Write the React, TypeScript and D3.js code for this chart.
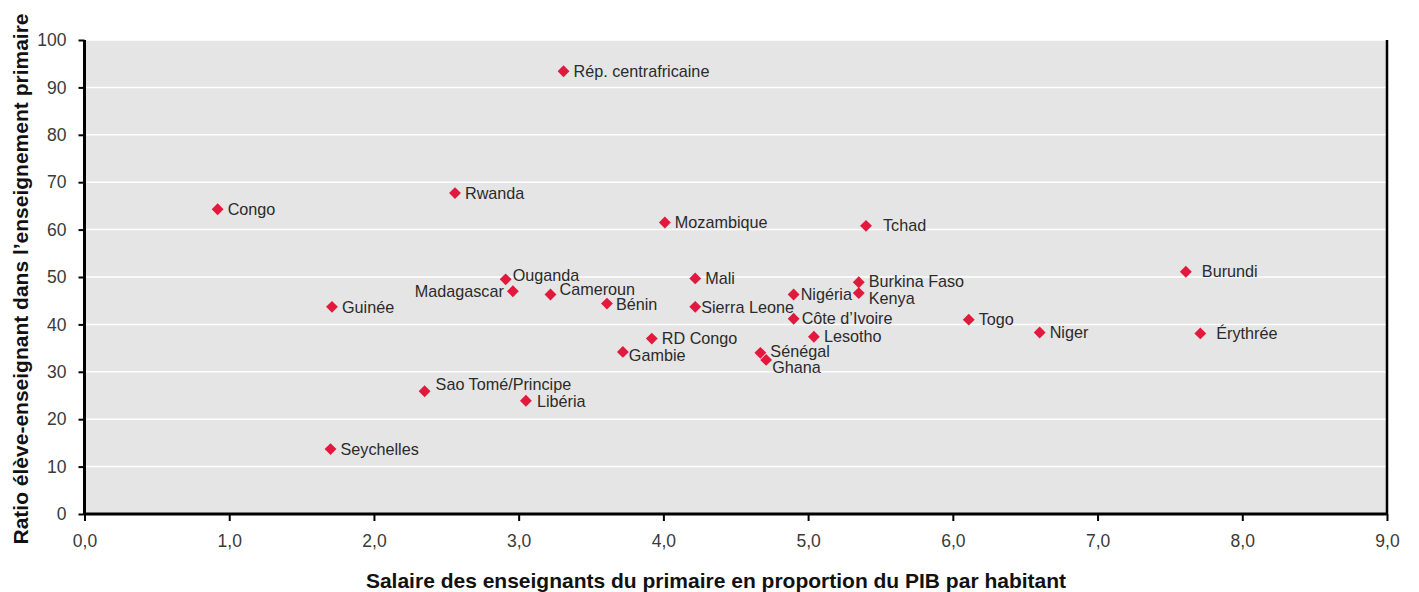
import React, { useEffect, useRef } from 'react';
import * as d3 from 'd3';

// Countries and their values (x: teacher salary / GDP per capita, y: pupil-teacher ratio)
const countries = [
    'Rép. centrafricaine', 'Congo', 'Rwanda', 'Mozambique', 'Tchad', 'Burundi', 'Érythrée',
    'Niger', 'Togo', 'Burkina Faso', 'Kenya', 'Nigéria', 'Côte d\u2019Ivoire', 'Lesotho',
    'Sénégal', 'Ghana', 'Mali', 'Sierra Leone', 'RD Congo', 'Gambie', 'Bénin', 'Cameroun',
    'Ouganda', 'Madagascar', 'Guinée', 'Sao Tomé/Principe', 'Libéria', 'Seychelles',
];
const salaryRatio = [
    3.31, 0.92, 2.56, 4.01, 5.40, 7.61, 7.71,
    6.60, 6.11, 5.35, 5.35, 4.90, 4.90, 5.04,
    4.67, 4.71, 4.22, 4.22, 3.92, 3.72, 3.61, 3.22,
    2.91, 2.96, 1.71, 2.35, 3.05, 1.70,
];
const pupilTeacher = [
    93.4, 64.3, 67.7, 61.5, 60.8, 51.1, 38.1,
    38.3, 41.0, 48.9, 46.6, 46.3, 41.2, 37.4,
    34.0, 32.5, 49.7, 43.7, 37.0, 34.2, 44.4, 46.3,
    49.5, 47.0, 43.7, 25.9, 23.9, 13.7,
];
const xTicks = [0, 1, 2, 3, 4, 5, 6, 7, 8, 9];
const yTicks = [0, 10, 20, 30, 40, 50, 60, 70, 80, 90, 100];

// label placement relative to marker (dx, dy, anchor)
const labelOffsets: Record<string, [number, number, string]> = {
    'Tchad': [17, 0, 'start'],
    'Burundi': [16, 0, 'start'],
    'Érythrée': [16, 0, 'start'],
    'Burkina Faso': [10, -1, 'start'],
    'Kenya': [10, 5, 'start'],
    'Nigéria': [7, 0, 'start'],
    'Côte d\u2019Ivoire': [8, 0, 'start'],
    'Sénégal': [10, -2, 'start'],
    'Ghana': [6, 7, 'start'],
    'Sierra Leone': [6, 0, 'start'],
    'Gambie': [6, 3, 'start'],
    'Bénin': [9, 1, 'start'],
    'Cameroun': [9, -5, 'start'],
    'Ouganda': [7, -4, 'start'],
    'Madagascar': [-9, 0, 'end'],
    'Sao Tomé/Principe': [11, -7, 'start'],
    'Libéria': [11, 1, 'start'],
};

const FONT = '"Liberation Sans", Arial, sans-serif';

const App: React.FC = () => {
    const svgRef = useRef<SVGSVGElement | null>(null);

    useEffect(() => {
        if (!svgRef.current) return;
        const svg = d3.select(svgRef.current);
        svg.selectAll('*').remove();

        const margin = { top: 40, right: 32, bottom: 78, left: 84.5 };
        const width = 1419;
        const height = 592;

        const x = d3.scaleLinear().domain([0, 9]).range([margin.left, width - margin.right]);
        const y = d3.scaleLinear().domain([0, 100]).range([height - margin.bottom, margin.top]);

        // plot background
        svg.append('rect')
            .attr('x', x(0))
            .attr('y', y(100))
            .attr('width', x(9) - x(0))
            .attr('height', y(0) - y(100))
            .style('fill', '#e5e5e5');

        // horizontal grid lines
        svg.selectAll('line.grid')
            .data(yTicks.filter((d) => d > 0))
            .enter()
            .append('line')
            .attr('class', 'grid')
            .attr('x1', x(0))
            .attr('x2', x(9))
            .attr('y1', (d) => y(d))
            .attr('y2', (d) => y(d))
            .style('stroke', '#ffffff')
            .style('stroke-width', '1.5px');

        // right border
        svg.append('line')
            .attr('x1', x(9)).attr('x2', x(9))
            .attr('y1', y(100)).attr('y2', y(0))
            .style('stroke', '#000').style('stroke-width', '2.5px');

        // y axis
        const yAxis = svg.append('g')
            .attr('transform', `translate(${x(0)},0)`)
            .call(d3.axisLeft(y).tickValues(yTicks).tickSize(6).tickPadding(12).tickFormat(d3.format('d')));
        yAxis.select('.domain').attr('d', `M0,${y(100)}V${y(0)}`).style('stroke-width', '3px');
        yAxis.selectAll('.tick line').style('stroke-width', '2px');
        yAxis.selectAll('text').style('font-family', FONT).style('font-size', '17.5px').style('fill', '#3a3a3a');

        // x axis
        const xAxis = svg.append('g')
            .attr('transform', `translate(0,${y(0)})`)
            .call(d3.axisBottom(x).tickValues(xTicks).tickSize(7).tickPadding(14)
                .tickFormat((d: any) => d3.format('.1f')(d).replace('.', ',')));
        xAxis.select('.domain').attr('d', `M${x(0)},0H${x(9)}`).style('stroke-width', '3px');
        xAxis.selectAll('.tick line').style('stroke-width', '2px');
        xAxis.selectAll('text').style('font-family', FONT).style('font-size', '17.5px').style('fill', '#3a3a3a');

        const points = countries.map((name, i) => ({ name, sx: salaryRatio[i], py: pupilTeacher[i] }));

        // markers
        const diamond = d3.symbol().type(d3.symbolSquare).size(70);
        svg.selectAll('path.marker')
            .data(points)
            .enter()
            .append('path')
            .attr('class', 'marker')
            .attr('d', diamond)
            .attr('transform', (d) => `translate(${x(d.sx)},${y(d.py)}) rotate(45)`)
            .style('fill', '#e1193c');

        // labels
        svg.selectAll('text.label')
            .data(points)
            .enter()
            .append('text')
            .attr('class', 'label')
            .attr('x', (d) => x(d.sx) + (labelOffsets[d.name] ? labelOffsets[d.name][0] : 10))
            .attr('y', (d) => y(d.py) + (labelOffsets[d.name] ? labelOffsets[d.name][1] : 0))
            .attr('dy', '0.35em')
            .attr('text-anchor', (d) => (labelOffsets[d.name] ? labelOffsets[d.name][2] : 'start'))
            .style('font-family', FONT)
            .style('font-size', '16.2px')
            .style('fill', '#2b2b2b')
            .text((d) => d.name);

        // axis titles
        svg.append('text')
            .attr('x', 716)
            .attr('y', 588)
            .attr('text-anchor', 'middle')
            .style('font-family', FONT)
            .style('font-weight', 'bold')
            .style('font-size', '21px')
            .style('fill', '#111')
            .text('Salaire des enseignants du primaire en proportion du PIB par habitant');

        svg.append('text')
            .attr('transform', `translate(28,${279}) rotate(-90)`)
            .attr('text-anchor', 'middle')
            .style('font-family', FONT)
            .style('font-weight', 'bold')
            .style('font-size', '21px')
            .style('fill', '#111')
            .text('Ratio élève-enseignant dans l\u2019enseignement primaire');
    }, []);

    return (
        <svg ref={svgRef} width={1419} height={592}
            style={{ position: 'absolute', left: 0, top: 0, background: '#fff' }}>
        </svg>
    );
};

export default App;
